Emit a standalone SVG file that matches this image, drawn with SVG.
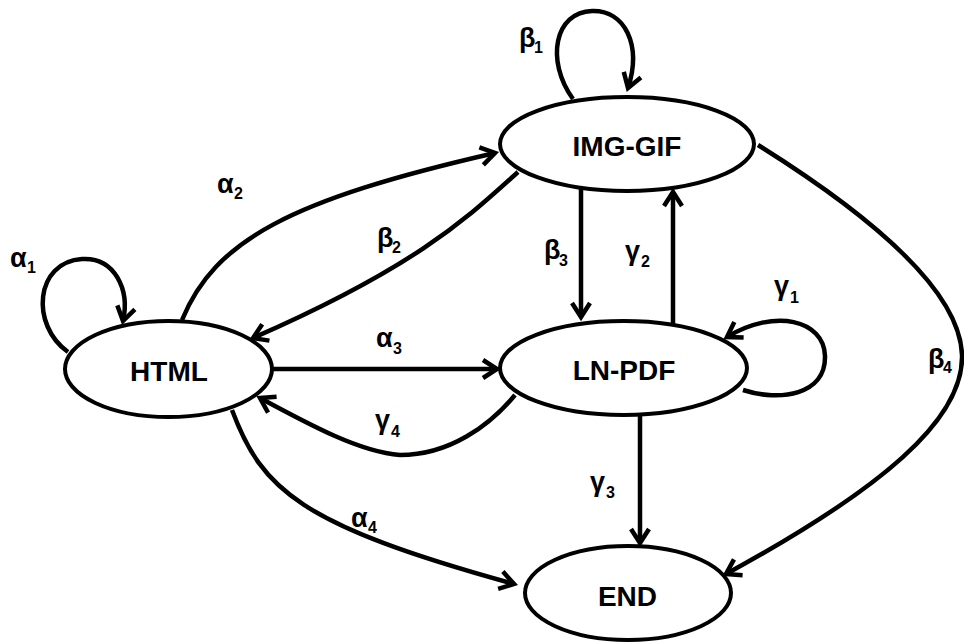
<svg xmlns="http://www.w3.org/2000/svg" width="964" height="644" viewBox="0 0 964 644">
<style>
.node ellipse{fill:#fff;stroke:#000;stroke-width:4}
.node text{font-family:"Liberation Sans",Arial,sans-serif;font-weight:bold;font-size:28px;text-anchor:middle;fill:#000}
.edge{fill:none;stroke:#000;stroke-width:4.5;marker-end:url(#arr)}
.lbl{font-family:"Liberation Sans",Arial,sans-serif;font-weight:bold;font-size:27px;fill:#000}
.sub{font-size:16px}
</style>
<defs>
<marker id="arr" markerUnits="userSpaceOnUse" orient="auto" viewBox="-20 -14 26 28" refX="0" refY="0" markerWidth="26" markerHeight="28" overflow="visible">
<path d="M-14,-9 L0,0 L-14,9" fill="none" stroke="#000" stroke-width="4.5" stroke-linejoin="miter"/>
</marker>
</defs>
<rect width="964" height="644" fill="#fff"/>
<g id="connectors">
<path id="e-a1" class="edge" d="M68 352 C30 325,35 262,82 259 C115 257,130 290,123 321"/>
<path id="e-a2" class="edge" d="M182 320 C215 240,290 200,495 153"/>
<path id="e-b2" class="edge" d="M518 172 C470 215,420 265,253 338"/>
<path id="e-a3" class="edge" d="M272 369 L497 369"/>
<path id="e-g4" class="edge" d="M515 395 C490 425,450 455,400 455 C360 452,310 425,260 398"/>
<path id="e-a4" class="edge" d="M232 410 C262 490,300 525,514 584"/>
<path id="e-b1" class="edge" d="M573 99 C545 60,555 12,592 11 C625 10,642 45,628 88"/>
<path id="e-b3" class="edge" d="M581 188 L581 317"/>
<path id="e-g2" class="edge" d="M673 325 L673 192"/>
<path id="e-g1" class="edge" d="M743 390 C780 402,826 395,825 356 C824 320,775 308,727 337"/>
<path id="e-g3" class="edge" d="M640 415 L640 543"/>
<path id="e-b4" class="edge" d="M758 145 C870 215,960 290,962 355 C964 420,880 490,726 574"/>
</g>
<g id="node-html" class="node"><ellipse cx="168.5" cy="369" rx="103.5" ry="48"/><text x="169" y="381">HTML</text></g>
<g id="node-imggif" class="node"><ellipse cx="627" cy="144" rx="127" ry="47"/><text x="627" y="156">IMG-GIF</text></g>
<g id="node-lnpdf" class="node"><ellipse cx="623.5" cy="368" rx="123.5" ry="47"/><text x="624" y="380">LN-PDF</text></g>
<g id="node-end" class="node"><ellipse cx="628" cy="593" rx="103" ry="47"/><text x="627.5" y="606">END</text></g>
<g id="labels">
<text class="lbl" x="10" y="267">α<tspan class="sub" x="27" y="273">1</tspan></text>
<text class="lbl" x="519" y="47">β<tspan class="sub" x="534" y="53">1</tspan></text>
<text class="lbl" x="217" y="193">α<tspan class="sub" x="234" y="199">2</tspan></text>
<text class="lbl" x="377" y="247">β<tspan class="sub" x="392" y="253">2</tspan></text>
<text class="lbl" x="376" y="347">α<tspan class="sub" x="393" y="354">3</tspan></text>
<text class="lbl" x="375" y="429">γ<tspan class="sub" x="391" y="437">4</tspan></text>
<text class="lbl" x="544" y="259">β<tspan class="sub" x="559" y="266">3</tspan></text>
<text class="lbl" x="625" y="260">γ<tspan class="sub" x="641" y="267">2</tspan></text>
<text class="lbl" x="774" y="295">γ<tspan class="sub" x="790" y="303">1</tspan></text>
<text class="lbl" x="928" y="368">β<tspan class="sub" x="943" y="373">4</tspan></text>
<text class="lbl" x="590" y="491">γ<tspan class="sub" x="606" y="498">3</tspan></text>
<text class="lbl" x="351" y="527">α<tspan class="sub" x="368" y="533">4</tspan></text>
</g>
</svg>
